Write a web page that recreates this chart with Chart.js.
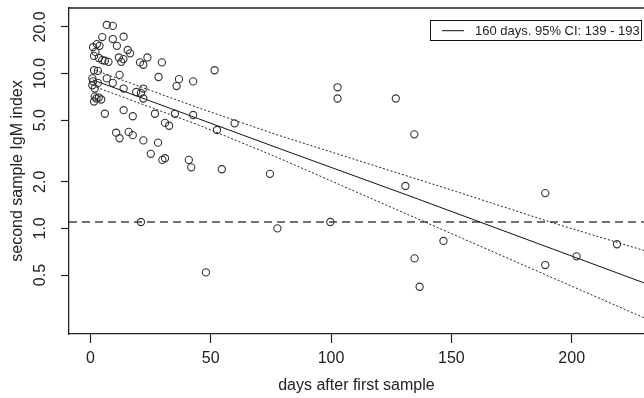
<!DOCTYPE html>
<html>
<head>
<meta charset="utf-8">
<script src="https://cdn.jsdelivr.net/npm/chart.js@4.4.1/dist/chart.umd.min.js"></script>
<style>
    html, body { margin: 0; padding: 0; overflow: hidden; background: #fff; }
    #wrap { width: 649px; height: 398px; }
</style>
</head>
<body>
<div id="wrap"><canvas id="chart" width="649" height="398"></canvas></div>
<script>
// Axis ticks
const xTicks = [0, 50, 100, 150, 200];
const yTicks = [0.5, 1.0, 2.0, 5.0, 10.0, 20.0];
const yTickLabels = ['0.5', '1.0', '2.0', '5.0', '10.0', '20.0'];
const xLimits = [-8.9, 230];
const yLimits = [0.208, 26.5];

// Observations: days after first sample vs second sample IgM index
const sampleDays = [
    6.8, 9.3, 4.9, 13.8, 1.1, 2.7, 3.8, 2.1, 9.3, 11.0,
    15.5, 16.5, 1.5, 3.5, 4.9, 6.0, 7.5, 11.8, 12.8, 13.7,
    20.6, 22.0, 23.7, 29.7, 1.5, 3.1, 0.8, 1.1, 0.8, 1.8,
    3.1, 6.8, 9.3, 12.1, 13.8, 19.0, 21.0, 22.0, 22.0, 28.3,
    36.8, 35.8, 42.7, 1.8, 2.5, 3.5, 4.5, 1.5, 6.0, 13.8,
    17.6, 26.8, 31.0, 32.7, 35.1, 42.7, 10.7, 12.1, 15.9, 17.6,
    22.0, 28.1, 25.1, 29.9, 31.0, 40.9, 41.9, 51.6, 52.6, 59.9,
    54.6, 74.6, 48.0, 21.0, 77.7, 99.7, 130.9, 134.7, 136.8, 146.7,
    102.7, 102.7, 126.9, 134.6, 189.0, 189.0, 202.0, 218.8
];
const igmIndex = [
    20.6, 20.3, 17.2, 17.3, 14.8, 15.5, 15.1, 13.8, 16.7, 15.1,
    14.2, 13.5, 13.0, 12.6, 12.2, 12.1, 11.9, 12.7, 11.9, 12.4,
    11.8, 11.4, 12.7, 11.8, 10.5, 10.4, 9.3, 8.9, 8.4, 8.0,
    8.7, 9.3, 8.7, 9.8, 8.0, 7.6, 7.5, 8.0, 6.9, 9.5,
    9.2, 8.3, 8.9, 7.1, 6.9, 7.0, 6.8, 6.6, 5.5, 5.8,
    5.3, 5.5, 4.8, 4.6, 5.5, 5.4, 4.15, 3.82, 4.2, 4.0,
    3.7, 3.58, 3.03, 2.77, 2.84, 2.77, 2.48, 10.5, 4.32, 4.77,
    2.41, 2.25, 0.52, 1.1, 1.0, 1.1, 1.88, 0.64, 0.42, 0.83,
    8.15, 6.9, 6.9, 4.05, 1.69, 0.58, 0.66, 0.79
];

// Fitted decay line and 95% band
const fitDays = [1, 45, 78, 136, 230];
const fitValues = [9.1, 5.1, 3.3, 1.55, 0.445];
const upperDays = [2, 45, 78, 152, 191, 230];
const upperValues = [10.5, 6.0, 4.0, 1.73, 1.1, 0.72];
const lowerDays = [2.5, 45, 78, 139, 230];
const lowerValues = [8.15, 4.65, 2.86, 1.1, 0.265];
const cutoff = 1.1;

const legendText = '160 days. 95% CI: 139 - 193';
const yTitle = 'second sample IgM index';
const xTitle = 'days after first sample';

const fontFamily = '"Liberation Sans", Arial, sans-serif';
const ink = '#222';

function toPoints(xs, ys) {
    return xs.map((x, i) => ({ x: x, y: ys[i] }));
}

// Box on top, rotated y labels and the legend
const rStyle = {
    id: 'rStyle',
    afterDraw(chart) {
        const ctx = chart.ctx;
        const area = chart.chartArea;
        const yScale = chart.scales.y;
        ctx.save();
        ctx.strokeStyle = ink;
        ctx.lineWidth = 1.3;
        ctx.beginPath();
        ctx.moveTo(area.left, area.top);
        ctx.lineTo(area.right, area.top);
        ctx.stroke();

        // y tick labels, reading upward like R
        ctx.fillStyle = ink;
        ctx.font = '16px ' + fontFamily;
        ctx.textAlign = 'center';
        ctx.textBaseline = 'middle';
        yTicks.forEach((v, i) => {
            const py = yScale.getPixelForValue(v);
            ctx.save();
            ctx.translate(41, py);
            ctx.rotate(-Math.PI / 2);
            ctx.fillText(yTickLabels[i], 0, 0);
            ctx.restore();
        });

        // legend
        ctx.lineWidth = 1;
        ctx.strokeStyle = '#111';
        ctx.strokeRect(430.5, 20.5, 211, 20);
        ctx.beginPath();
        ctx.moveTo(442, 30.7);
        ctx.lineTo(464, 30.7);
        ctx.stroke();
        ctx.font = '13px ' + fontFamily;
        ctx.textAlign = 'left';
        ctx.fillText(legendText, 475, 31);
        ctx.restore();
    }
};

const ctx = document.getElementById('chart').getContext('2d');
new Chart(ctx, {
    type: 'scatter',
    data: {
        datasets: [
            {
                label: 'samples',
                data: toPoints(sampleDays, igmIndex),
                showLine: false,
                pointStyle: 'circle',
                pointRadius: 3.6,
                pointBorderWidth: 1.1,
                pointBorderColor: '#333',
                pointBackgroundColor: 'rgba(0,0,0,0)',
                order: 0
            },
            {
                label: 'fit',
                data: toPoints(fitDays, fitValues),
                showLine: true,
                borderColor: '#111',
                borderWidth: 1,
                pointRadius: 0,
                order: 1
            },
            {
                label: 'upper',
                data: toPoints(upperDays, upperValues),
                showLine: true,
                borderColor: '#222',
                borderWidth: 1,
                borderDash: [2, 2],
                pointRadius: 0,
                order: 2
            },
            {
                label: 'lower',
                data: toPoints(lowerDays, lowerValues),
                showLine: true,
                borderColor: '#222',
                borderWidth: 1,
                borderDash: [2, 2],
                pointRadius: 0,
                order: 3
            },
            {
                label: 'cutoff',
                data: toPoints(xLimits, [cutoff, cutoff]),
                showLine: true,
                borderColor: '#444',
                borderWidth: 1.4,
                borderDash: [8, 5],
                pointRadius: 0,
                order: 4
            }
        ]
    },
    options: {
        responsive: false,
        animation: false,
        layout: { padding: { top: 8, right: 0, left: 0, bottom: 0 } },
        plugins: {
            legend: { display: false },
            tooltip: { enabled: false }
        },
        scales: {
            x: {
                type: 'linear',
                min: xLimits[0],
                max: xLimits[1],
                afterBuildTicks: (scale) => {
                    scale.ticks = xTicks.map(v => ({ value: v }));
                },
                afterFit: (scale) => { scale.height = 64; },
                grid: {
                    drawOnChartArea: false,
                    drawTicks: true,
                    tickLength: 9,
                    tickWidth: 1.2,
                    tickColor: ink
                },
                border: { display: true, color: ink, width: 1.3 },
                ticks: {
                    color: ink,
                    padding: 6,
                    maxRotation: 0,
                    font: { family: fontFamily, size: 16 }
                },
                title: {
                    display: true,
                    text: xTitle,
                    color: ink,
                    padding: { top: 0, bottom: 3 },
                    font: { family: fontFamily, size: 16 }
                }
            },
            y: {
                type: 'logarithmic',
                min: yLimits[0],
                max: yLimits[1],
                afterBuildTicks: (scale) => {
                    scale.ticks = yTicks.map(v => ({ value: v }));
                },
                afterFit: (scale) => { scale.width = 69; },
                grid: {
                    drawOnChartArea: false,
                    drawTicks: true,
                    tickLength: 8,
                    tickWidth: 1.2,
                    tickColor: ink
                },
                border: { display: true, color: ink, width: 1.3 },
                ticks: { display: false },
                title: {
                    display: true,
                    text: yTitle,
                    color: ink,
                    padding: { top: 8, bottom: 0 },
                    font: { family: fontFamily, size: 16 }
                }
            }
        }
    },
    plugins: [rStyle]
});
</script>
</body>
</html>
